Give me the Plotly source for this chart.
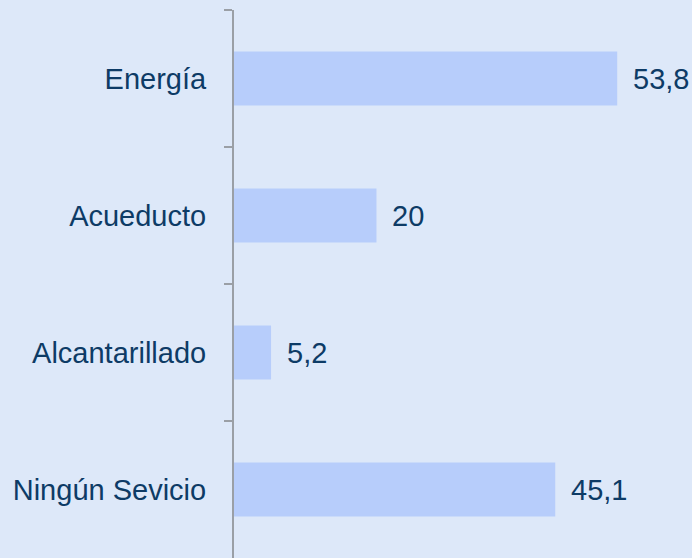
import plotly.graph_objects as go

# categories and percentages
categories = ["Energía", "Acueducto", "Alcantarillado", "Ningún Sevicio"]
values = [53.8, 20, 5.2, 45.1]
labels = [str(v).replace(".", ",") for v in values]

bg = "#dde8f9"
bar_color = "#b7cdfb"
text_color = "#0d3b66"
axis_color = "#9a9fa6"
font_family = "Liberation Sans, Arial, sans-serif"
fsize = 29

fig = go.Figure()
fig.add_trace(go.Bar(
    x=values, y=categories, orientation="h",
    marker=dict(color=bar_color, line=dict(width=0)),
    hoverinfo="skip",
))

# value labels to the right of each bar
for cat, val, lab in zip(categories, values, labels):
    fig.add_annotation(
        x=val, y=cat, text=lab, showarrow=False,
        xanchor="left", xshift=14,
        font=dict(size=fsize, color=text_color, family=font_family),
    )

fig.update_layout(
    width=692, height=558,
    margin=dict(l=234, r=0, t=10, b=0),
    paper_bgcolor=bg, plot_bgcolor=bg,
    bargap=0.606,
    showlegend=False,
    font=dict(family=font_family, size=fsize, color=text_color),
)
fig.update_xaxes(range=[0, 64.3], visible=False, showgrid=False, zeroline=False)
fig.update_yaxes(
    autorange="reversed",
    showline=True, linecolor=axis_color, linewidth=2,
    ticks="outside", ticklen=8, tickcolor=axis_color, tickwidth=1.5,
    tickson="boundaries", ticklabelstandoff=20,
    showgrid=False, zeroline=False,
    tickfont=dict(size=fsize, color=text_color, family=font_family),
)

fig.write_html(
    "out.html",
    config={"displayModeBar": False},
    post_script="document.body.style.margin='0';document.body.style.background='%s';" % bg,
)
